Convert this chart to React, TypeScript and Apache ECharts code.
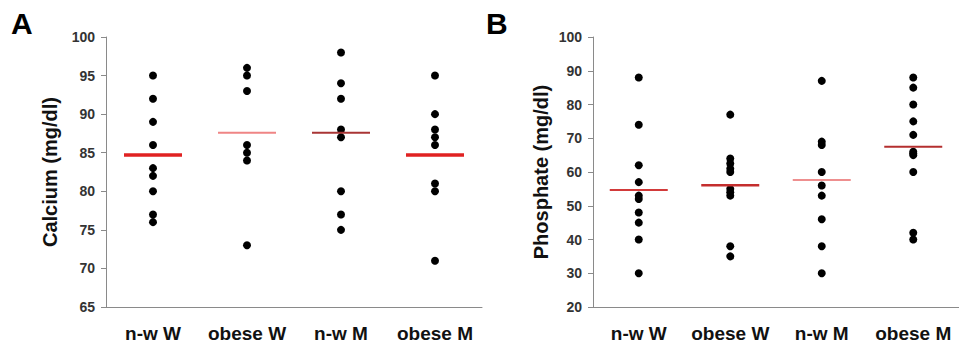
import React, { useEffect, useRef } from "react";
import * as echarts from "echarts";

const categories = ["n-w W", "obese W", "n-w M", "obese M"];

// Panel A: Calcium (mg/dl)
const calciumNwW = [95, 92, 89, 86, 83, 82, 80, 77, 76];
const calciumObW = [96, 95, 93, 86, 85, 84, 73];
const calciumNwM = [98, 94, 92, 88, 87, 80, 77, 75];
const calciumObM = [95, 90, 88, 87, 86, 81, 80, 71];
const calciumMeans = [84.7, 87.6, 87.6, 84.7];

// Panel B: Phosphate (mg/dl)
const phosNwW = [88, 74, 62, 57, 53, 52, 48, 45, 40, 30];
const phosObW = [77, 64, 62.5, 61, 60, 55, 54, 53, 38, 35];
const phosNwM = [87, 69, 68, 60, 56, 53, 46, 38, 30];
const phosObM = [88, 85, 80, 75, 71, 66, 65.5, 65, 60, 42, 40];
const phosMeans = [54.7, 56.1, 57.6, 67.5];

const calciumTicks = { min: 65, max: 100, interval: 5 };
const phosTicks = { min: 20, max: 100, interval: 10 };

const meanStylesA = [
  { color: "#e02222", h: 3.5 },
  { color: "#ef8585", h: 2 },
  { color: "#a93535", h: 2 },
  { color: "#e02222", h: 3.5 },
];
const meanStylesB = [
  { color: "#d23a3a", h: 2 },
  { color: "#c42e2e", h: 2.5 },
  { color: "#ee8f8f", h: 2 },
  { color: "#b42f2f", h: 2 },
];

function pts(groups: number[][]) {
  const out: number[][] = [];
  groups.forEach((g, i) => g.forEach((v) => out.push([i, v])));
  return out;
}

export default function App() {
  const ref = useRef<HTMLDivElement>(null);
  useEffect(() => {
    if (!ref.current) return;
    const chart = echarts.init(ref.current, undefined, { renderer: "svg" });
    const font = "Liberation Sans, Arial, sans-serif";
    const xAxisBase = {
      type: "category" as const,
      data: categories,
      axisLine: { lineStyle: { color: "#8a8a8a", width: 1 } },
      axisTick: { alignWithLabel: true, length: 4, lineStyle: { color: "#8a8a8a" } },
      axisLabel: {
        color: "#111",
        fontWeight: "bold" as const,
        fontSize: 19,
        fontFamily: font,
        margin: 17,
        interval: 0,
      },
    };
    const yAxisBase = (name: string, t: any, gap: number) => ({
      type: "value" as const,
      min: t.min,
      max: t.max,
      interval: t.interval,
      name,
      nameLocation: "middle" as const,
      nameGap: gap,
      nameTextStyle: { color: "#111", fontWeight: "bold" as const, fontSize: 20, fontFamily: font },
      axisLine: { show: true, lineStyle: { color: "#8a8a8a", width: 1 } },
      axisTick: { show: true, length: 5, lineStyle: { color: "#8a8a8a" } },
      axisLabel: { color: "#333", fontWeight: "bold" as const, fontSize: 14, fontFamily: font, margin: 11 },
      splitLine: { show: false },
    });
    const meanSeries = (means: number[], styles: any[], idx: number) =>
      means.map((m, i) => ({
        type: "scatter" as const,
        xAxisIndex: idx,
        yAxisIndex: idx,
        symbol: "rect",
        symbolSize: [58, styles[i].h],
        itemStyle: { color: styles[i].color, opacity: 1 },
        data: [[i, m]],
        z: 5,
      }));
    chart.setOption({
      animation: false,
      grid: [
        { left: 106, right: 477, top: 37, bottom: 34 },
        { left: 593, right: -10, top: 37, bottom: 34 },
      ],
      xAxis: [
        { ...xAxisBase, gridIndex: 0 },
        { ...xAxisBase, gridIndex: 1 },
      ],
      yAxis: [
        { ...yAxisBase("Calcium (mg/dl)", calciumTicks, 46), gridIndex: 0 },
        { ...yAxisBase("Phosphate (mg/dl)", phosTicks, 42), gridIndex: 1 },
      ],
      graphic: [
        { type: "text", left: 11, top: 8, style: { text: "A", font: `bold 30px ${font}`, fill: "#000" } },
        { type: "text", left: 486, top: 8, style: { text: "B", font: `bold 30px ${font}`, fill: "#000" } },
      ],
      series: [
        {
          type: "scatter",
          xAxisIndex: 0,
          yAxisIndex: 0,
          symbolSize: 8,
          itemStyle: { color: "#000", opacity: 1 },
          data: pts([calciumNwW, calciumObW, calciumNwM, calciumObM]),
          z: 3,
        },
        {
          type: "scatter",
          xAxisIndex: 1,
          yAxisIndex: 1,
          symbolSize: 8,
          itemStyle: { color: "#000", opacity: 1 },
          data: pts([phosNwW, phosObW, phosNwM, phosObM]),
          z: 3,
        },
        ...meanSeries(calciumMeans, meanStylesA, 0),
        ...meanSeries(phosMeans, meanStylesB, 1),
      ],
    });
    return () => chart.dispose();
  }, []);
  return <div ref={ref} style={{ width: 959, height: 343, position: "fixed", left: 0, top: 0, background: "#fff" }} />;
}
